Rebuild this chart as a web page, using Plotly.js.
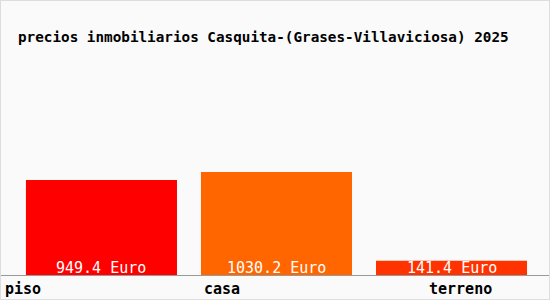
<!DOCTYPE html>
<html><head><meta charset="utf-8">
<script src="https://cdn.plot.ly/plotly-3.0.1.min.js"></script>
<style>
html,body{margin:0;padding:0;background:#fafafa;}
#chart{width:548px;height:298px;border:1px solid #dddddd;}
</style>
</head><body>
<div id="chart"></div>
<script>
const categories = ["piso", "casa", "terreno"];
const values = [949.4, 1030.2, 141.4];
const unit = "Euro";
const chartTitle = "precios inmobiliarios Casquita-(Grases-Villaviciosa) 2025";

const colors = ["#ff0000", "#ff6600", "#ff3300"];
const tickShift = [-78, -54, 9];
const mono = "DejaVu Sans Mono";

const annotations = [];
categories.forEach((c, i) => {
  annotations.push({
    x: c, y: 0, xref: "x", yref: "y",
    text: values[i].toFixed(1) + " " + unit,
    showarrow: false, yanchor: "bottom", xanchor: "center", yshift: -4,
    font: {family: mono, size: 15, color: "#ffffff"}
  });
  annotations.push({
    x: c, y: 0, xref: "x", yref: "y",
    text: c, showarrow: false, yanchor: "top", xanchor: "center",
    xshift: tickShift[i], yshift: -3,
    font: {family: mono, size: 15, color: "#000000", weight: "bold"}
  });
});

Plotly.newPlot("chart", [{
  type: "bar",
  x: categories,
  y: values,
  marker: {color: colors, line: {width: 0}},
  hoverinfo: "none"
}], {
  width: 548, height: 298,
  margin: {l: 0, r: 0, t: 74, b: 24, pad: 0},
  paper_bgcolor: "#fafafa",
  plot_bgcolor: "#fafafa",
  bargap: 0.137,
  showlegend: false,
  title: {
    text: chartTitle, xref: "container", yref: "container",
    x: 17/548, xanchor: "left", y: 1 - 36/298, yanchor: "middle",
    font: {family: mono, size: 14.3, color: "#000000", weight: "bold"}
  },
  xaxis: {
    type: "category", range: [-0.574, 2.557],
    showticklabels: false, showgrid: false, zeroline: false,
    showline: true, linecolor: "#999999", linewidth: 1, ticks: ""
  },
  yaxis: {
    range: [0, 2000], showticklabels: false, showgrid: false,
    zeroline: false, showline: false, ticks: ""
  },
  annotations: annotations
}, {displayModeBar: false, staticPlot: true});
</script>
</body></html>
